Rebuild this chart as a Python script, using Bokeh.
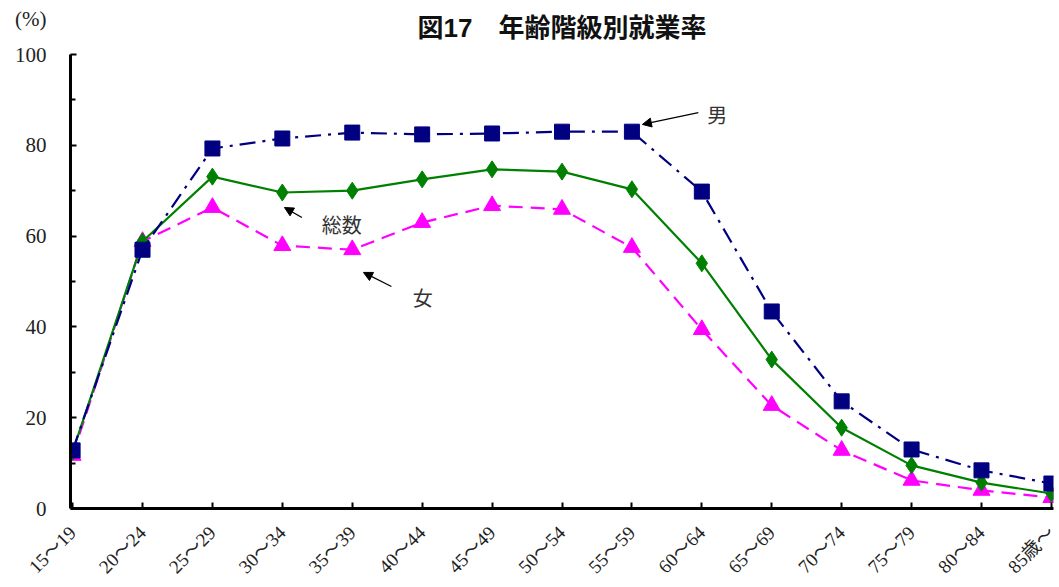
from bokeh.plotting import figure
from bokeh.models import Range1d, FixedTicker, Label, Arrow, NormalHead
from bokeh.embed import file_html
from bokeh.resources import INLINE

categories = ["15～19", "20～24", "25～29", "30～34", "35～39", "40～44", "45～49",
              "50～54", "55～59", "60～64", "65～69", "70～74", "75～79", "80～84", "85歳～"]
male = [12.8, 57.0, 79.3, 81.5, 82.8, 82.4, 82.6, 83.0, 83.0, 69.8, 43.4, 23.6, 13.0, 8.4, 5.5]
total = [12.5, 58.8, 73.1, 69.6, 70.0, 72.5, 74.7, 74.2, 70.3, 54.0, 32.8, 17.8, 9.5, 5.7, 3.3]
female = [11.7, 58.8, 66.3, 57.9, 57.0, 63.0, 66.7, 65.9, 57.5, 39.4, 22.7, 12.8, 6.2, 4.0, 2.4]
y_ticks = [0, 20, 40, 60, 80, 100]
y_minor = [10, 30, 50, 70, 90]
unit_text = "(%)"

xs = list(range(len(categories)))
SERIF = "'Liberation Serif', 'Noto Sans CJK JP'"
CJK = "Noto Sans CJK JP"

p = figure(width=1059, height=587, output_backend="svg", toolbar_location=None,
           title="図17　年齢階級別就業率",
           x_range=Range1d(-0.03, len(categories) - 1 + 0.03), y_range=Range1d(0, 100),
           min_border_left=70, min_border_right=6, min_border_top=54, min_border_bottom=79)
p.grid.visible = False
p.outline_line_color = None
p.background_fill_color = "white"

p.title.align = "center"
p.title.vertical_align = "top"
p.title.text_font = "'Liberation Sans', 'Noto Sans CJK JP'"
p.title.text_font_size = "26px"
p.title.text_font_style = "bold"
p.title.text_color = "#111111"
p.title.standoff = 20
p.title.offset = -8

# axes
p.xaxis.ticker = FixedTicker(ticks=xs)
p.xaxis.major_label_overrides = {i: c for i, c in enumerate(categories)}
p.xaxis.major_label_orientation = 0.785
p.xaxis.major_label_text_font = SERIF
p.xaxis.major_label_text_font_size = "19px"
p.xaxis.major_label_text_color = "#222222"
p.xaxis.major_tick_in = 6
p.xaxis.major_tick_out = 0
p.xaxis.minor_tick_line_color = None
p.xaxis.axis_line_width = 3
p.xaxis.major_tick_line_width = 2
p.xaxis.major_label_standoff = 21

p.yaxis.ticker = FixedTicker(ticks=y_ticks, minor_ticks=y_minor)
# the unit "(%)" sits above the top tick label, in the axis panel
p.yaxis.major_label_overrides = {y_ticks[-1]: unit_text + "\n" + str(y_ticks[-1]) + "\n "}
p.yaxis.major_label_text_line_height = 1.5
p.yaxis.major_label_text_font = SERIF
p.yaxis.major_label_text_font_size = "21px"
p.yaxis.major_label_text_color = "#222222"
p.yaxis.major_tick_in = 6
p.yaxis.major_tick_out = 0
p.yaxis.minor_tick_in = 5
p.yaxis.minor_tick_out = 0
p.yaxis.axis_line_width = 3
p.yaxis.major_tick_line_width = 2
p.yaxis.minor_tick_line_width = 2
p.yaxis.major_label_standoff = 24

# series
p.line(xs, female, line_color="#FF00FF", line_width=2.2, line_dash="14 8")
p.scatter(xs, female, marker="triangle", size=17, fill_color="#FF00FF", line_color="#FF00FF")
p.line(xs, total, line_color="#008000", line_width=2.2)
p.scatter(xs, total, marker="diamond", size=17, fill_color="#008000", line_color="#008000")
p.line(xs, male, line_color="#000080", line_width=2.2, line_dash="16 7 3 7")
p.scatter(xs, male, marker="square", size=15, fill_color="#000080", line_color="#000080")

# annotations
for tx, ty, txt, x0, y0, x1, y1 in [
    (9.22, 86.8, "男", 8.95, 87.2, 8.15, 84.6),
    (3.85, 62.6, "総数", 3.28, 64.1, 3.03, 66.3),
    (5.01, 46.5, "女", 4.56, 48.9, 4.16, 52.0),
]:
    p.add_layout(Label(x=tx, y=ty, text=txt, text_font=CJK, text_font_size="20px",
                       text_align="center", text_baseline="middle", text_color="#333333"))
    p.add_layout(Arrow(x_start=x0, y_start=y0, x_end=x1, y_end=y1, line_width=1.3,
                       line_color="black",
                       end=NormalHead(size=9, fill_color="black", line_color="black")))

open("out.html", "w").write(file_html(p, INLINE))
